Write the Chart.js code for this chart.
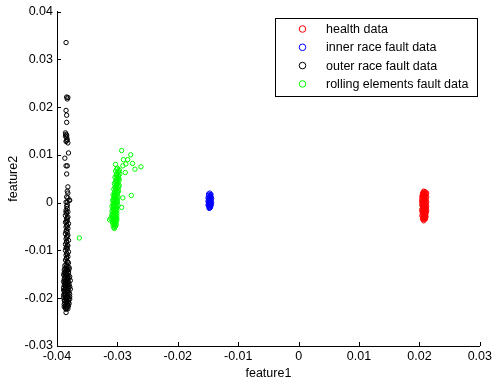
<!DOCTYPE html>
<html lang="en">
<head>
    <meta charset="UTF-8">
    <title>feature scatter</title>
    <style>
        html, body { margin: 0; padding: 0; background: #fff; }
        #wrap { width: 495px; height: 383px; }
    </style>
    <script src="https://cdn.jsdelivr.net/npm/chart.js@4.4.0/dist/chart.umd.min.js"></script>
</head>
<body>
    <div id="wrap">
        <canvas id="scatter" width="495" height="383"></canvas>
    </div>
    <script>
        // axis ticks
        const xTicks = [-0.04, -0.03, -0.02, -0.01, 0, 0.01, 0.02, 0.03];
        const yTicks = [-0.03, -0.02, -0.01, 0, 0.01, 0.02, 0.03, 0.04];

        const seriesNames = ['health data', 'inner race fault data', 'outer race fault data', 'rolling elements fault data'];
        const seriesColors = ['#ff0000', '#0000ff', '#000000', '#00ff00'];

        // [feature1, feature2]
        const healthData = [
            [0.0207, 0.0024], [0.0210, 0.0022], [0.0205, 0.0019], [0.0211, 0.0018], [0.0208, 0.0016],
            [0.0204, 0.0013], [0.0212, 0.0012], [0.0209, 0.0010], [0.0206, 0.0008], [0.0211, 0.0006],
            [0.0204, 0.0004], [0.0208, 0.0003], [0.0212, 0.0001], [0.0206, -0.0001], [0.0210, -0.0003],
            [0.0204, -0.0005], [0.0208, -0.0006], [0.0212, -0.0008], [0.0206, -0.0010], [0.0210, -0.0012],
            [0.0204, -0.0014], [0.0208, -0.0015], [0.0212, -0.0017], [0.0205, -0.0019], [0.0209, -0.0020],
            [0.0211, -0.0022], [0.0206, -0.0024], [0.0209, -0.0026], [0.0204, -0.0027], [0.0211, -0.0029],
            [0.0207, -0.0031], [0.0209, -0.0033], [0.0205, -0.0034], [0.0208, -0.0036], [0.0207, -0.0038],
            [0.0207, 0.0011], [0.0209, -0.0008], [0.0207, -0.0018], [0.0205, 0.0000], [0.0211, -0.0013],
            [0.0207, 0.0020], [0.0209, 0.0023], [0.0206, 0.0021], [0.0212, 0.0020], [0.0208, 0.0019],
            [0.0205, 0.0016], [0.0210, 0.0015], [0.0207, 0.0014], [0.0205, 0.0011], [0.0211, 0.0010],
            [0.0208, 0.0008], [0.0204, 0.0007], [0.0210, 0.0005], [0.0206, 0.0004], [0.0209, 0.0001],
            [0.0204, 0.0000], [0.0211, -0.0001], [0.0207, -0.0003], [0.0205, -0.0004], [0.0211, -0.0005],
            [0.0209, -0.0006], [0.0205, -0.0008], [0.0207, -0.0010], [0.0211, -0.0011], [0.0205, -0.0012],
            [0.0209, -0.0014], [0.0206, -0.0016], [0.0210, -0.0017], [0.0204, -0.0018], [0.0211, -0.0019],
            [0.0207, -0.0021], [0.0205, -0.0022], [0.0210, -0.0024], [0.0208, -0.0025], [0.0206, -0.0027],
            [0.0210, -0.0028], [0.0206, -0.0030], [0.0209, -0.0031], [0.0206, -0.0033], [0.0210, -0.0034],
            [0.0208, -0.0034]
        ];

        const innerRaceData = [
            [-0.0147, 0.0020], [-0.0145, 0.0017], [-0.0149, 0.0015], [-0.0146, 0.0012], [-0.0150, 0.0010],
            [-0.0144, 0.0009], [-0.0148, 0.0007], [-0.0145, 0.0005], [-0.0150, 0.0003], [-0.0147, 0.0002],
            [-0.0144, 0.0000], [-0.0149, -0.0001], [-0.0146, -0.0003], [-0.0150, -0.0005], [-0.0145, -0.0006],
            [-0.0148, -0.0008], [-0.0146, -0.0010], [-0.0148, -0.0012], [-0.0147, 0.0013], [-0.0147, -0.0004],
            [-0.0149, 0.0018], [-0.0146, 0.0016], [-0.0148, 0.0012], [-0.0145, 0.0011], [-0.0149, 0.0008],
            [-0.0146, 0.0007], [-0.0148, 0.0004], [-0.0145, 0.0002], [-0.0149, 0.0001], [-0.0146, -0.0001],
            [-0.0148, -0.0003], [-0.0145, -0.0004], [-0.0149, -0.0006], [-0.0146, -0.0007], [-0.0148, -0.0010],
            [-0.0147, -0.0011]
        ];

        const outerRaceData = [
            [-0.0385, 0.0335], [-0.0384, 0.0221], [-0.0382, 0.0220], [-0.0383, 0.0217], [-0.0385, 0.0193],
            [-0.0384, 0.0183], [-0.0384, 0.0168], [-0.0386, 0.0146], [-0.0385, 0.0143], [-0.0386, 0.0139],
            [-0.0384, 0.0141], [-0.0384, 0.0137], [-0.0383, 0.0132], [-0.0385, 0.0128], [-0.0382, 0.0125],
            [-0.0384, 0.0130], [-0.0381, 0.0104], [-0.0387, 0.0093], [-0.0385, 0.0077], [-0.0383, 0.0077],
            [-0.0384, 0.0060], [-0.0382, 0.0033], [-0.0383, 0.0024], [-0.0382, 0.0020], [-0.0384, 0.0012],
            [-0.0382, 0.0010], [-0.0380, 0.0005], [-0.0379, 0.0005], [-0.0385, 0.0001], [-0.0383, 0.0001],
            [-0.0384, -0.0008], [-0.0383, -0.0012], [-0.0385, -0.0016], [-0.0382, -0.0019], [-0.0384, -0.0023],
            [-0.0386, -0.0027], [-0.0382, -0.0030], [-0.0384, -0.0034], [-0.0383, -0.0038], [-0.0386, -0.0041],
            [-0.0381, -0.0044], [-0.0384, -0.0047], [-0.0385, -0.0051], [-0.0382, -0.0054], [-0.0384, -0.0058],
            [-0.0383, -0.0062], [-0.0386, -0.0065], [-0.0382, -0.0068], [-0.0384, -0.0072], [-0.0385, -0.0076],
            [-0.0381, -0.0079], [-0.0384, -0.0083], [-0.0386, -0.0087], [-0.0382, -0.0090], [-0.0384, -0.0093],
            [-0.0383, -0.0097], [-0.0386, -0.0100], [-0.0381, -0.0103], [-0.0384, -0.0106], [-0.0385, -0.0110],
            [-0.0382, -0.0113], [-0.0384, -0.0117], [-0.0386, -0.0120], [-0.0383, -0.0123], [-0.0381, -0.0126],
            [-0.0385, -0.0129], [-0.0387, -0.0132], [-0.0382, -0.0134], [-0.0385, -0.0137], [-0.0380, -0.0139],
            [-0.0388, -0.0141], [-0.0383, -0.0143], [-0.0386, -0.0146], [-0.0381, -0.0148], [-0.0389, -0.0151],
            [-0.0384, -0.0153], [-0.0379, -0.0155], [-0.0387, -0.0157], [-0.0382, -0.0159], [-0.0385, -0.0161],
            [-0.0378, -0.0163], [-0.0389, -0.0165], [-0.0383, -0.0167], [-0.0386, -0.0169], [-0.0380, -0.0171],
            [-0.0388, -0.0173], [-0.0384, -0.0175], [-0.0381, -0.0177], [-0.0386, -0.0179], [-0.0378, -0.0181],
            [-0.0389, -0.0183], [-0.0383, -0.0185], [-0.0385, -0.0187], [-0.0380, -0.0189], [-0.0388, -0.0191],
            [-0.0382, -0.0193], [-0.0386, -0.0195], [-0.0379, -0.0197], [-0.0389, -0.0199], [-0.0384, -0.0201],
            [-0.0381, -0.0203], [-0.0387, -0.0205], [-0.0383, -0.0207], [-0.0385, -0.0209], [-0.0380, -0.0211],
            [-0.0388, -0.0213], [-0.0383, -0.0215], [-0.0386, -0.0217], [-0.0384, -0.0220], [-0.0385, -0.0223],
            [-0.0385, -0.0230], [-0.0384, -0.0133], [-0.0380, -0.0136], [-0.0387, -0.0138], [-0.0383, -0.0140],
            [-0.0385, -0.0142], [-0.0381, -0.0145], [-0.0388, -0.0147], [-0.0384, -0.0149], [-0.0386, -0.0150],
            [-0.0382, -0.0152], [-0.0387, -0.0154], [-0.0383, -0.0156], [-0.0380, -0.0158], [-0.0388, -0.0160],
            [-0.0383, -0.0162], [-0.0386, -0.0164], [-0.0381, -0.0166], [-0.0388, -0.0168], [-0.0384, -0.0170],
            [-0.0382, -0.0172], [-0.0386, -0.0174], [-0.0379, -0.0176], [-0.0389, -0.0178], [-0.0383, -0.0180],
            [-0.0386, -0.0182], [-0.0381, -0.0184], [-0.0388, -0.0186], [-0.0383, -0.0188], [-0.0386, -0.0190],
            [-0.0379, -0.0192], [-0.0389, -0.0194], [-0.0384, -0.0196], [-0.0382, -0.0198], [-0.0386, -0.0200],
            [-0.0379, -0.0202], [-0.0388, -0.0204], [-0.0384, -0.0206], [-0.0381, -0.0208], [-0.0387, -0.0210],
            [-0.0383, -0.0212], [-0.0385, -0.0214], [-0.0381, -0.0216], [-0.0388, -0.0218], [-0.0383, -0.0219],
            [-0.0386, -0.0221], [-0.0382, -0.0222], [-0.0383, -0.0005], [-0.0385, -0.0020], [-0.0383, -0.0032],
            [-0.0384, -0.0040], [-0.0383, -0.0049], [-0.0385, -0.0060], [-0.0383, -0.0070], [-0.0384, -0.0081],
            [-0.0383, -0.0089], [-0.0385, -0.0095], [-0.0383, -0.0108], [-0.0384, -0.0115], [-0.0383, -0.0125]
        ];

        const rollingData = [
            [-0.0293, 0.0109], [-0.0278, 0.0100], [-0.0290, 0.0090], [-0.0283, 0.0090], [-0.0286, 0.0081],
            [-0.0275, 0.0082], [-0.0271, 0.0070], [-0.0261, 0.0075], [-0.0287, 0.0063], [-0.0291, 0.0077],
            [-0.0277, 0.0015], [-0.0291, 0.0010], [-0.0293, -0.0010], [-0.0363, -0.0074], [-0.0303, 0.0080],
            [-0.0300, 0.0072], [-0.0297, 0.0068], [-0.0303, 0.0066], [-0.0299, 0.0063], [-0.0296, 0.0060],
            [-0.0302, 0.0058], [-0.0298, 0.0055], [-0.0304, 0.0053], [-0.0300, 0.0050], [-0.0297, 0.0048],
            [-0.0303, 0.0045], [-0.0299, 0.0043], [-0.0305, 0.0040], [-0.0301, 0.0038], [-0.0297, 0.0036],
            [-0.0304, 0.0033], [-0.0300, 0.0031], [-0.0306, 0.0028], [-0.0302, 0.0026], [-0.0298, 0.0024],
            [-0.0305, 0.0021], [-0.0301, 0.0019], [-0.0307, 0.0016], [-0.0303, 0.0014], [-0.0299, 0.0012],
            [-0.0306, 0.0009], [-0.0302, 0.0007], [-0.0308, 0.0005], [-0.0304, 0.0003], [-0.0300, 0.0001],
            [-0.0307, -0.0002], [-0.0303, -0.0004], [-0.0299, -0.0006], [-0.0309, -0.0008], [-0.0305, -0.0010],
            [-0.0301, -0.0012], [-0.0307, -0.0014], [-0.0303, -0.0016], [-0.0309, -0.0018], [-0.0305, -0.0020],
            [-0.0301, -0.0022], [-0.0307, -0.0024], [-0.0303, -0.0026], [-0.0309, -0.0028], [-0.0305, -0.0030],
            [-0.0301, -0.0032], [-0.0311, -0.0033], [-0.0307, -0.0035], [-0.0303, -0.0037], [-0.0313, -0.0036],
            [-0.0308, -0.0039], [-0.0304, -0.0041], [-0.0306, -0.0044], [-0.0302, -0.0046], [-0.0307, -0.0048],
            [-0.0304, -0.0050], [-0.0306, -0.0052], [-0.0301, 0.0047], [-0.0305, 0.0012], [-0.0306, -0.0006],
            [-0.0301, 0.0070], [-0.0298, 0.0065], [-0.0301, 0.0061], [-0.0299, 0.0057], [-0.0302, 0.0052],
            [-0.0298, 0.0050], [-0.0301, 0.0045], [-0.0303, 0.0042], [-0.0299, 0.0040], [-0.0302, 0.0035],
            [-0.0298, 0.0033], [-0.0303, 0.0030], [-0.0299, 0.0028], [-0.0304, 0.0024], [-0.0300, 0.0022],
            [-0.0304, 0.0018], [-0.0300, 0.0016], [-0.0305, 0.0015], [-0.0301, 0.0010], [-0.0304, 0.0008],
            [-0.0300, 0.0005], [-0.0306, 0.0004], [-0.0302, 0.0002], [-0.0305, -0.0001], [-0.0301, -0.0003],
            [-0.0307, -0.0005], [-0.0303, -0.0008], [-0.0301, -0.0009], [-0.0307, -0.0011], [-0.0303, -0.0013],
            [-0.0305, -0.0015], [-0.0301, -0.0017], [-0.0307, -0.0019], [-0.0303, -0.0021], [-0.0305, -0.0023],
            [-0.0309, -0.0025], [-0.0301, -0.0027], [-0.0307, -0.0029], [-0.0303, -0.0031], [-0.0305, -0.0034],
            [-0.0309, -0.0035], [-0.0301, -0.0036], [-0.0306, -0.0038], [-0.0302, -0.0040], [-0.0308, -0.0042],
            [-0.0304, -0.0044], [-0.0305, -0.0047], [-0.0303, -0.0049], [-0.0305, -0.0054]
        ];

        const allData = [healthData, innerRaceData, outerRaceData, rollingData];
        const FONT = 'Liberation Sans, Arial, sans-serif';
        const FSIZE = 12.5;

        function fmt(v) {
            return String(Number(v.toFixed(2)));
        }

        // matlab style: ticks pointing in, legend box top right
        const matlabBits = {
            id: 'matlabBits',
            afterDraw(chart) {
                const ctx = chart.ctx;
                const xs = chart.scales.x, ys = chart.scales.y;
                const area = chart.chartArea;
                ctx.save();
                ctx.strokeStyle = '#000';
                ctx.lineWidth = 1;
                ctx.beginPath();
                xTicks.forEach(function (t) {
                    const px = Math.round(xs.getPixelForValue(t)) + 0.5;
                    ctx.moveTo(px, area.bottom);
                    ctx.lineTo(px, area.bottom - 4);
                });
                yTicks.forEach(function (t) {
                    const py = Math.round(ys.getPixelForValue(t)) + 0.5;
                    ctx.moveTo(area.left, py);
                    ctx.lineTo(area.left + 4, py);
                });
                ctx.stroke();

                // legend
                const bx = 275.5, by = 18.5, bw = 202, bh = 78;
                ctx.fillStyle = '#fff';
                ctx.fillRect(bx, by, bw, bh);
                ctx.strokeRect(bx, by, bw, bh);
                ctx.font = FSIZE + 'px ' + FONT;
                ctx.textBaseline = 'middle';
                ctx.textAlign = 'left';
                seriesNames.forEach(function (name, i) {
                    const cy = 29 + i * 18.3;
                    ctx.beginPath();
                    ctx.strokeStyle = seriesColors[i];
                    ctx.arc(302.5, cy, 3.3, 0, Math.PI * 2);
                    ctx.stroke();
                    ctx.fillStyle = '#000';
                    ctx.fillText(name, 326, cy + 0.5);
                });
                ctx.restore();
            }
        };

        new Chart(document.getElementById('scatter').getContext('2d'), {
            type: 'scatter',
            data: {
                datasets: allData.map(function (pts, i) {
                    return {
                        label: seriesNames[i],
                        data: pts.map(function (p) { return { x: p[0], y: p[1] }; }),
                        borderColor: seriesColors[i],
                        backgroundColor: 'rgba(0,0,0,0)',
                        borderWidth: 1,
                        pointRadius: 2.2,
                        pointHoverRadius: 2.2
                    };
                })
            },
            options: {
                responsive: false,
                animation: false,
                devicePixelRatio: 1,
                layout: { padding: { top: 11, right: 12, left: 0, bottom: 0 } },
                plugins: {
                    legend: { display: false },
                    tooltip: { enabled: false }
                },
                scales: {
                    x: {
                        type: 'linear',
                        min: -0.04,
                        max: 0.03,
                        afterBuildTicks: function (s) { s.ticks = xTicks.map(function (v) { return { value: v }; }); },
                        afterFit: function (s) { s.height = 37; },
                        ticks: {
                            color: '#000',
                            padding: 3,
                            maxRotation: 0,
                            font: { family: FONT, size: FSIZE },
                            callback: function (v) { return fmt(v); }
                        },
                        grid: { drawOnChartArea: false, drawTicks: false },
                        border: { display: true, color: '#000', width: 1 },
                        title: {
                            display: true,
                            text: 'feature1',
                            color: '#000',
                            font: { family: FONT, size: FSIZE },
                            padding: { top: 0, bottom: 2 }
                        }
                    },
                    y: {
                        type: 'linear',
                        min: -0.03,
                        max: 0.04,
                        afterBuildTicks: function (s) { s.ticks = yTicks.map(function (v) { return { value: v }; }); },
                        afterFit: function (s) { s.width = 57; },
                        ticks: {
                            color: '#000',
                            padding: 4,
                            font: { family: FONT, size: FSIZE },
                            callback: function (v) { return fmt(v); }
                        },
                        grid: { drawOnChartArea: false, drawTicks: false },
                        border: { display: true, color: '#000', width: 1 },
                        title: {
                            display: true,
                            text: 'feature2',
                            color: '#000',
                            font: { family: FONT, size: FSIZE },
                            padding: { top: 6, bottom: 0 }
                        }
                    }
                }
            },
            plugins: [matlabBits]
        });
    </script>
</body>
</html>
